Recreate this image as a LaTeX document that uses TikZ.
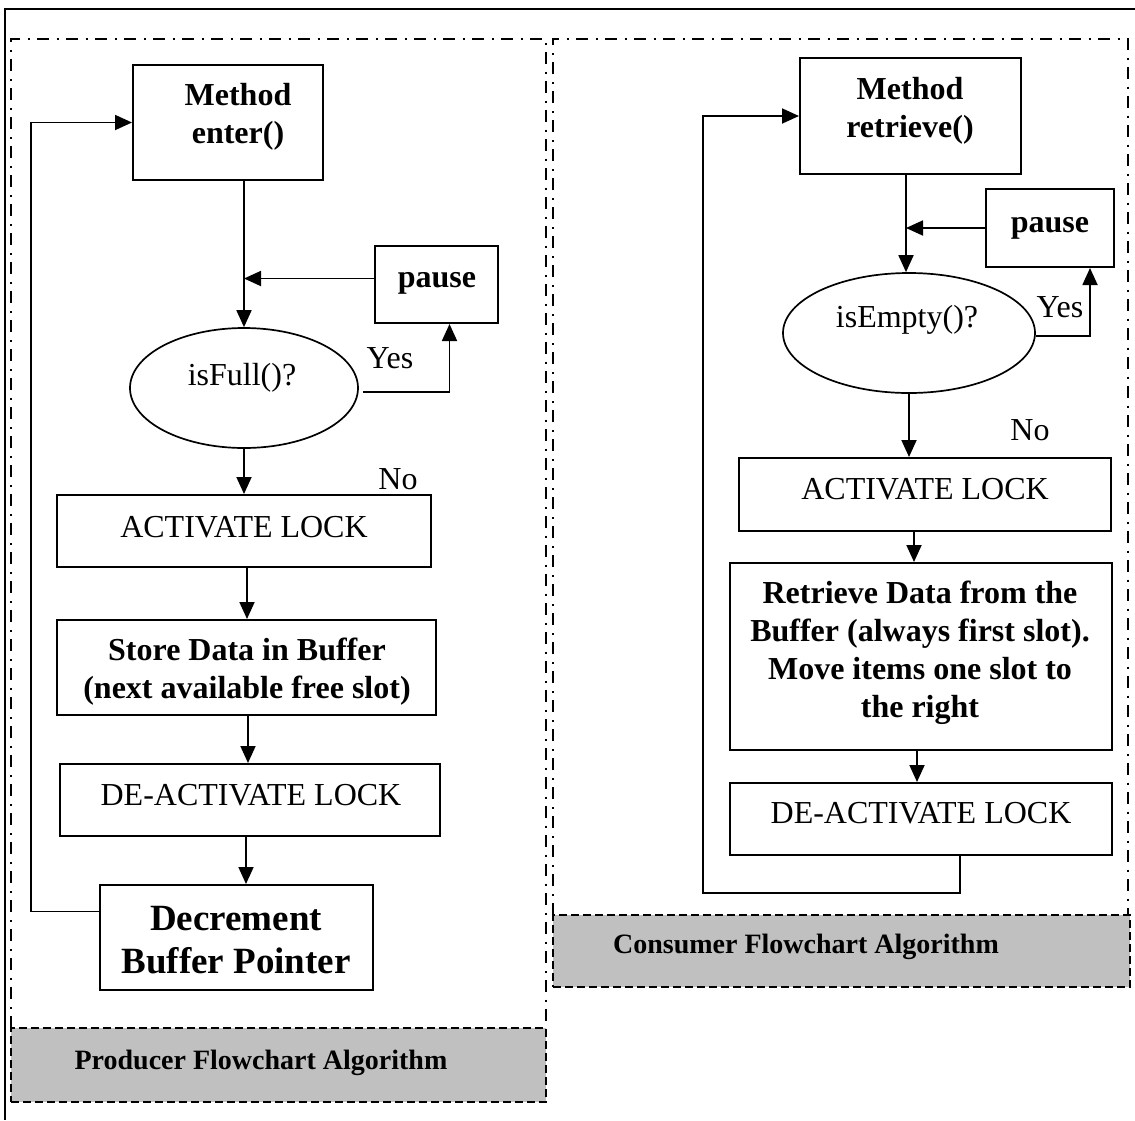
\documentclass[tikz,border=0pt]{standalone}
\usepackage{fontspec}
\setmainfont{Liberation Serif}
\usetikzlibrary{arrows.meta,shapes.geometric,fit,calc}

\definecolor{capgray}{RGB}{192,192,192}

% centred multi-line text whose baseline is that of its first line
\newcommand{\mlines}[1]{\begin{tabular}[t]{@{}c@{}}#1\end{tabular}}

\begin{document}
\begin{tikzpicture}[x=0.5pt,y=-0.5pt,
  flowbox/.style={draw, line width=1pt, inner sep=0pt},
  decision/.style={draw, ellipse, line width=0.85pt, inner sep=0pt, minimum height=60pt},
  txt/.style={anchor=base, inner sep=0pt, font=\fontsize{16}{19}\selectfont},
  btxt/.style={anchor=base, inner sep=0pt, font=\fontsize{16}{19}\selectfont\bfseries},
  arr/.style={line width=0.9pt, -{Triangle[length=8.5pt,width=7.5pt]}},
  dashdotframe/.style={line width=1.4pt, dash pattern=on 6pt off 3.75pt on 1pt off 3.75pt},
  capbox/.style={draw, fill=capgray, line width=1.2pt, dash pattern=on 4pt off 2pt, inner sep=0pt},
  captxt/.style={anchor=base, inner sep=0pt, font=\fontsize{14}{17}\selectfont\bfseries},
]
\useasboundingbox (0,0) rectangle (1135,1120);

% outer border (top and left edges)
\draw[line width=1.2pt] (1135,9) -- (5,9) -- (5,1120);

% the two dash-dot panels
\draw[dashdotframe] (11,1028) -- (11,39) -- (546,39) -- (546,1028);
\draw[dashdotframe] (553,915) -- (553,39) -- (1128,39) -- (1128,915);

% captions
\node[capbox, fit={(11,1028) (546,1102)}] (prodcap) {};
\node[captxt] (prodcapT) at (261,1069) {Producer Flowchart Algorithm};
\node[capbox, fit={(553,915) (1130,987)}] (conscap) {};
\node[captxt] (conscapT) at (806,953) {Consumer Flowchart Algorithm};

% ---------------- producer ----------------
\node[flowbox, fit={(133,65) (323,180)}] (enter) {};
\node[btxt] (enterT) at (238,105) {\mlines{Method\\enter()}};

\node[flowbox, fit={(375,246) (498,323)}] (pauseL) {};
\node[btxt] (pauseLT) at (437,287) {pause};

\node[decision, minimum width=114pt] (isfull) at (244,388) {};
\node[txt] (isfullT) at (242,385) {isFull()?};
\node[txt] (yesL) at (390,368) {Yes};
\node[txt] (noL) at (398,489) {No};

\node[flowbox, fit={(57,495) (431,567)}] (actL) {};
\node[txt] (actLT) at (244,537) {ACTIVATE LOCK};

\node[flowbox, fit={(57,620) (436,715)}] (storeL) {};
\node[btxt] (storeLT) at (247,660) {\mlines{Store Data in Buffer\\(next available free slot)}};

\node[flowbox, fit={(60,764) (440,836)}] (deactL) {};
\node[txt] (deactLT) at (251,805) {DE-ACTIVATE LOCK};

\node[flowbox, fit={(100,885) (373,990)}] (decL) {};
\node[btxt, font=\fontsize{18.5}{21.5}\selectfont\bfseries] (decLT) at (236,930)
  {\mlines{Decrement\\Buffer Pointer}};

\draw[arr] (enter.south -| isfull.north) -- (isfull.north);
\draw[arr] ([yshift=3pt]pauseL.west) -- ([yshift=3pt]pauseL.west -| isfull.north);
\draw[arr] ([xshift=2pt,yshift=-2pt]isfull.east) -| ([xshift=6.5pt]pauseL.south);
\draw[arr] (isfull.south) -- (isfull.south |- actL.north);
\draw[arr] ([xshift=1.5pt]actL.south) -- ([xshift=1.5pt]actL.south |- storeL.north);
\draw[arr] ([xshift=0.75pt]storeL.south) -- ([xshift=0.75pt]storeL.south |- deactL.north);
\draw[arr] ([xshift=-2pt]deactL.south) -- ([xshift=-2pt]deactL.south |- decL.north);
\draw[arr] ([yshift=13pt]decL.west) -| ([xshift=-50.5pt]enter.west) -- (enter.west);

% ---------------- consumer ----------------
\node[flowbox, fit={(800,58) (1021,174)}] (retr) {};
\node[btxt] (retrT) at (910,99) {\mlines{Method\\retrieve()}};

\node[flowbox, fit={(986,189) (1114,267)}] (pauseR) {};
\node[btxt] (pauseRT) at (1050,232) {pause};

\node[decision, minimum width=126pt] (isempty) at (909,333) {};
\node[txt] (isemptyT) at (907,327) {isEmpty()?};
\node[txt] (yesR) at (1060,317) {Yes};
\node[txt] (noR) at (1030,440) {No};

\node[flowbox, fit={(739,458) (1111,531)}] (actR) {};
\node[txt] (actRT) at (925,499) {ACTIVATE LOCK};

\node[flowbox, fit={(730,563) (1112,750)}] (retrData) {};
\node[btxt] (retrDataT) at (920,603)
  {\mlines{Retrieve Data from the\\Buffer (always first slot).\\Move items one slot to\\the right}};

\node[flowbox, fit={(730,783) (1112,855)}] (deactR) {};
\node[txt] (deactRT) at (921,823) {DE-ACTIVATE LOCK};

\draw[arr] ([xshift=-1.5pt]isempty.north |- retr.south) -- ([xshift=-1.5pt]isempty.north);
\draw[arr] (pauseR.west) -- ([xshift=-1.5pt]pauseR.west -| isempty.north);
\draw[arr] ([yshift=-1.5pt]isempty.east) -| ([xshift=20pt]pauseR.south);
\draw[arr] (isempty.south) -- (isempty.south |- actR.north);
\draw[arr] ([xshift=-5.5pt]actR.south) -- ([xshift=-5.5pt]actR.south |- retrData.north);
\draw[arr] ([xshift=-2pt]retrData.south) -- ([xshift=-2pt]retrData.south |- deactR.north);
\draw[arr] ([xshift=19.5pt]deactR.south) -- ++(0,37) -| ([xshift=-48pt]retr.west) -- (retr.west);
\end{tikzpicture}
\end{document}
